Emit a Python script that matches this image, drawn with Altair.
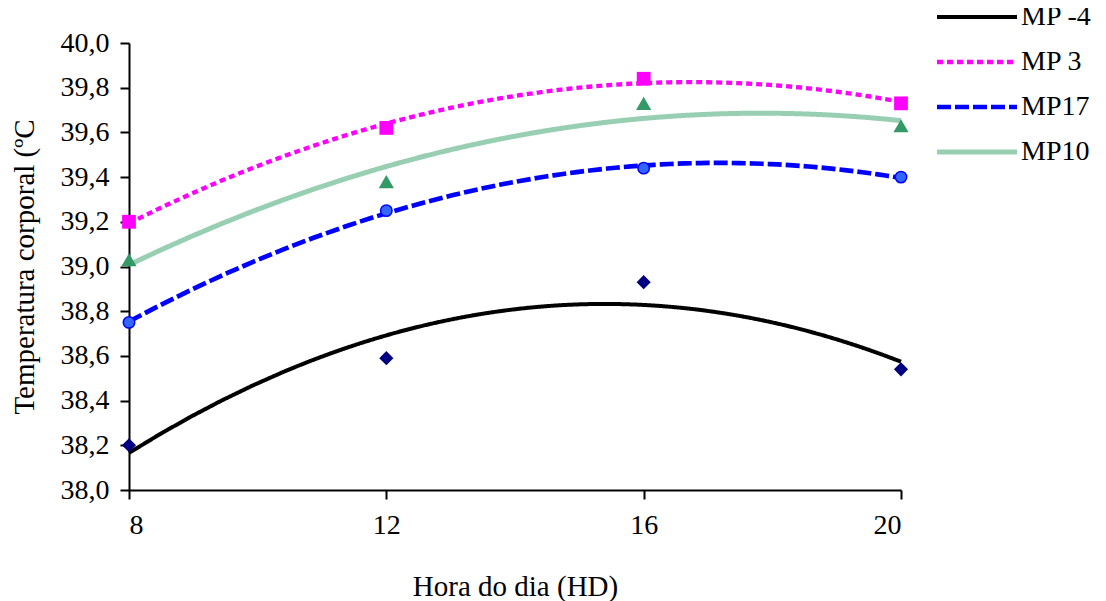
import altair as alt
import pandas as pd

# ---- data ----
series = ["MP -4", "MP 3", "MP17", "MP10"]
hours = [8, 12, 16, 20]
mp_m4 = [38.20, 38.59, 38.93, 38.54]
mp_3 = [39.20, 39.62, 39.84, 39.73]
mp_17 = [38.75, 39.25, 39.44, 39.40]
mp_10 = [39.03, 39.38, 39.73, 39.63]

x_ticks = [8, 12, 16, 20]
y_ticks = [38.0, 38.2, 38.4, 38.6, 38.8, 39.0, 39.2, 39.4, 39.6, 39.8, 40.0]

# ---- styles ----
line_colors = ["#000000", "#FF00FF", "#0000FF", "#98CFB3"]
line_dashes = [[1, 0], [6, 4], [14, 4], [1, 0]]
line_widths = [4, 5, 5, 9]
marker_shapes = ["diamond", "square", "circle", "triangle-up"]
marker_fills = ["#000080", "#FF00FF", "#3366FF", "#339966"]
marker_strokes = ["#000080", "#FF00FF", "#0000FF", "#339966"]
marker_stroke_w = [0, 0, 1.5, 0]
marker_sizes = [200, 190, 130, 230]

rows = []
for name, vals in zip(series, [mp_m4, mp_3, mp_17, mp_10]):
    for h, v in zip(hours, vals):
        rows.append({"serie": name, "hora": h, "temp": v})
df = pd.DataFrame(rows)

FONT = "Liberation Serif"

x_enc = alt.X("hora:Q", scale=alt.Scale(domain=[8, 20], nice=False),
              axis=alt.Axis(values=x_ticks, title="Hora do dia (HD)",
                            titleBaseline="alphabetic", titleY=105,
                            labelPadding=12))
y_enc = alt.Y("temp:Q", scale=alt.Scale(domain=[38, 40], nice=False, zero=False),
              axis=alt.Axis(values=y_ticks, title="Temperatura corporal (ºC",
                            labelExpr="replace(format(datum.value, '.1f'), '.', ',')",
                            titleBaseline="alphabetic", titleX=-96,
                            labelPadding=11))

leg = alt.Legend(title=None, orient="none", legendX=834, legendY=-40,
                 symbolType="M-4,0L4,0", symbolSize=400,
                 labelFont=FONT, labelFontSize=28, labelColor="black",
                 rowPadding=17, labelOffset=30, padding=0)

base = alt.Chart(df)

lines = base.transform_regression(
    "hora", "temp", groupby=["serie"], method="poly", order=2, extent=[8, 20]
).mark_line().encode(
    x=x_enc,
    y=y_enc,
    stroke=alt.Stroke("serie:N", scale=alt.Scale(domain=series, range=line_colors), legend=leg),
    strokeDash=alt.StrokeDash("serie:N", scale=alt.Scale(domain=series, range=line_dashes), legend=leg),
    strokeWidth=alt.StrokeWidth("serie:N", scale=alt.Scale(domain=series, range=line_widths), legend=leg),
)

layers = [lines]
for name, shp, fc, sc, sw, sz in zip(series, marker_shapes, marker_fills,
                                     marker_strokes, marker_stroke_w, marker_sizes):
    layers.append(
        base.transform_filter(alt.datum.serie == name).mark_point(
            shape=shp, filled=True, fill=fc, stroke=sc, strokeWidth=sw,
            size=sz, opacity=1,
        ).encode(x=x_enc, y=y_enc)
    )

chart = alt.layer(*layers).properties(
    width=772, height=447,
    autosize=alt.AutoSizeParams(type="none"),
    padding={"left": 121, "top": 35, "right": 197, "bottom": 125},
).configure_view(stroke=None).configure_axis(
    grid=False, domainColor="black", domainWidth=2, tickColor="black", tickWidth=2,
    tickSize=9, labelFont=FONT, labelFontSize=28, labelColor="black",
    titleFont=FONT, titleFontSize=29, titleFontWeight="normal", titleColor="black",
)

chart.save("out.html", embed_options={"renderer": "svg", "actions": False})
